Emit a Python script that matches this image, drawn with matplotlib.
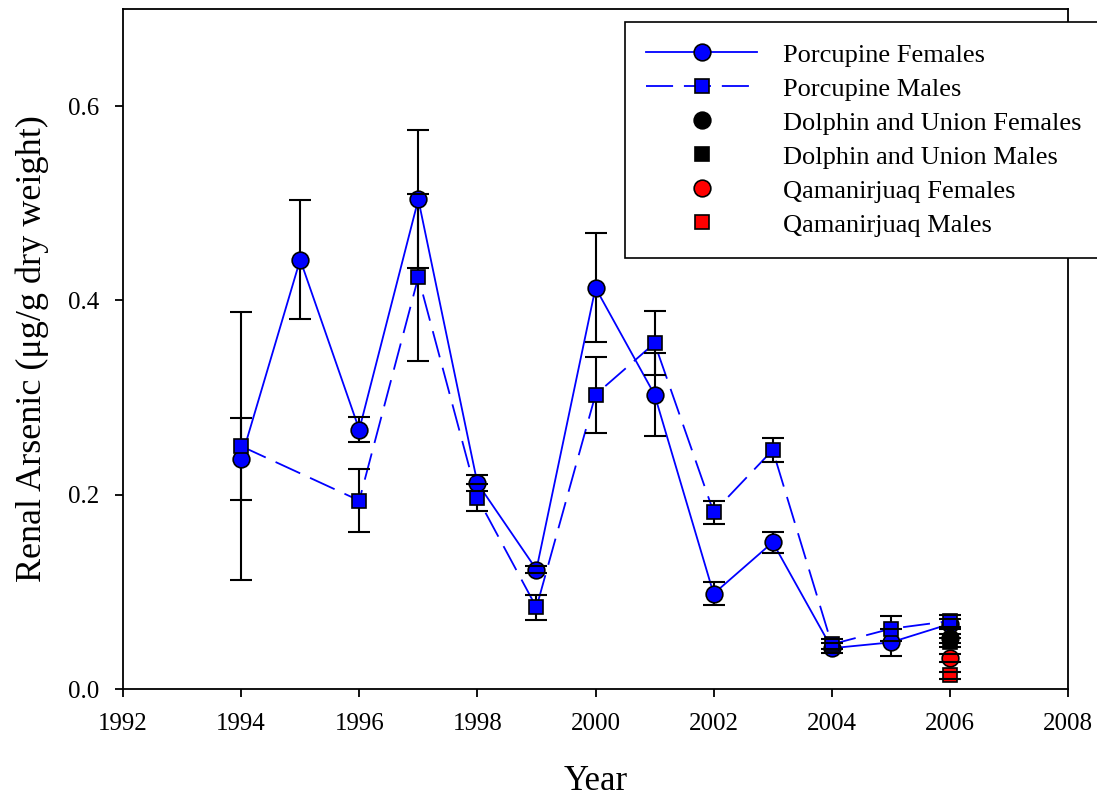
import numpy as np
import matplotlib
matplotlib.use("Agg")
import matplotlib.pyplot as plt

plt.rcParams['font.family'] = ['Liberation Serif', 'DejaVu Serif']

# Porcupine herd
years_f = [1994, 1995, 1996, 1997, 1998, 1999, 2000, 2001, 2002, 2003, 2004, 2005, 2006]
fem = [0.237, 0.442, 0.267, 0.504, 0.212, 0.123, 0.413, 0.303, 0.098, 0.151, 0.042, 0.048, 0.067]
fem_err = [0.042, 0.061, 0.013, 0.071, 0.008, 0.004, 0.056, 0.043, 0.012, 0.011, 0.005, 0.014, 0.005]

years_m = [1994, 1996, 1997, 1998, 1999, 2000, 2001, 2002, 2003, 2004, 2005, 2006]
mal = [0.250, 0.194, 0.424, 0.197, 0.084, 0.303, 0.356, 0.182, 0.246, 0.046, 0.062, 0.070]
mal_err = [0.138, 0.032, 0.086, 0.014, 0.013, 0.039, 0.033, 0.012, 0.012, 0.005, 0.013, 0.006]

# other herds, 2006 only
other_year = [2006]
du_fem, du_fem_err = [0.052], [0.005]
du_mal, du_mal_err = [0.048], [0.005]
qa_fem, qa_fem_err = [0.032], [0.004]
qa_mal, qa_mal_err = [0.014], [0.004]

fig = plt.figure(figsize=(10.97, 8.0), dpi=100)
ax = fig.add_axes([123/1097, 111/800, 945/1097, 680/800])

def ebar(x, y, e):
    _, caps, bars = ax.errorbar(x, y, yerr=e, fmt='none', ecolor='k',
                                elinewidth=1.5, capsize=8, capthick=1.5, zorder=2)
    for c in caps:
        c.set_zorder(4)

ebar(years_f, fem, fem_err)
ebar(years_m, mal, mal_err)
ebar(other_year, du_fem, du_fem_err)
ebar(other_year, du_mal, du_mal_err)
ebar(other_year, qa_fem, qa_fem_err)
ebar(other_year, qa_mal, qa_mal_err)

ax.plot(years_f, fem, '-', color='#0000ff', lw=1.3, marker='o', ms=12,
        mfc='#0000ff', mec='k', mew=1.2, zorder=3, label='Porcupine Females')
ax.plot(years_m, mal, color='#0000ff', lw=1.3, ls=(0, (15, 6)), marker='s', ms=10,
        mfc='#0000ff', mec='k', mew=1.2, zorder=3, label='Porcupine Males')
ax.plot(other_year, du_fem, ls='none', marker='o', ms=12, mfc='k', mec='k',
        mew=1.2, zorder=3, label='Dolphin and Union Females')
ax.plot(other_year, du_mal, ls='none', marker='s', ms=10, mfc='k', mec='k',
        mew=1.2, zorder=3, label='Dolphin and Union Males')
ax.plot(other_year, qa_fem, ls='none', marker='o', ms=12, mfc='#ff0000', mec='k',
        mew=1.2, zorder=3, label='Qamanirjuaq Females')
ax.plot(other_year, qa_mal, ls='none', marker='s', ms=10, mfc='#ff0000', mec='k',
        mew=1.2, zorder=3, label='Qamanirjuaq Males')

ax.set_xlim(1992, 2008)
ax.set_ylim(0, 0.7)
ax.set_xticks(np.arange(1992, 2009, 2))
ax.set_yticks([0.0, 0.2, 0.4, 0.6])
ax.set_yticklabels(['0.0', '0.2', '0.4', '0.6'])
ax.tick_params(direction='out', length=6, width=1.3, labelsize=18, pad=11)
for s in ax.spines.values():
    s.set_linewidth(1.3)

ax.set_xlabel('Year', fontsize=25, labelpad=22)
ax.set_ylabel('Renal Arsenic (μg/g dry weight)', fontsize=26, labelpad=14)

leg = ax.legend(loc='upper left', bbox_to_anchor=(625/1097, 778/800, 0.47, 0.0),
                bbox_transform=fig.transFigure, mode='expand', fontsize=19,
                frameon=True, fancybox=False, edgecolor='k', framealpha=1,
                handlelength=4.2, handletextpad=1.0, labelspacing=0.4,
                borderpad=0.8, borderaxespad=0, numpoints=1)
leg.get_frame().set_linewidth(1.2)
leg.set_zorder(10)

fig.savefig('out.png', dpi=100)
